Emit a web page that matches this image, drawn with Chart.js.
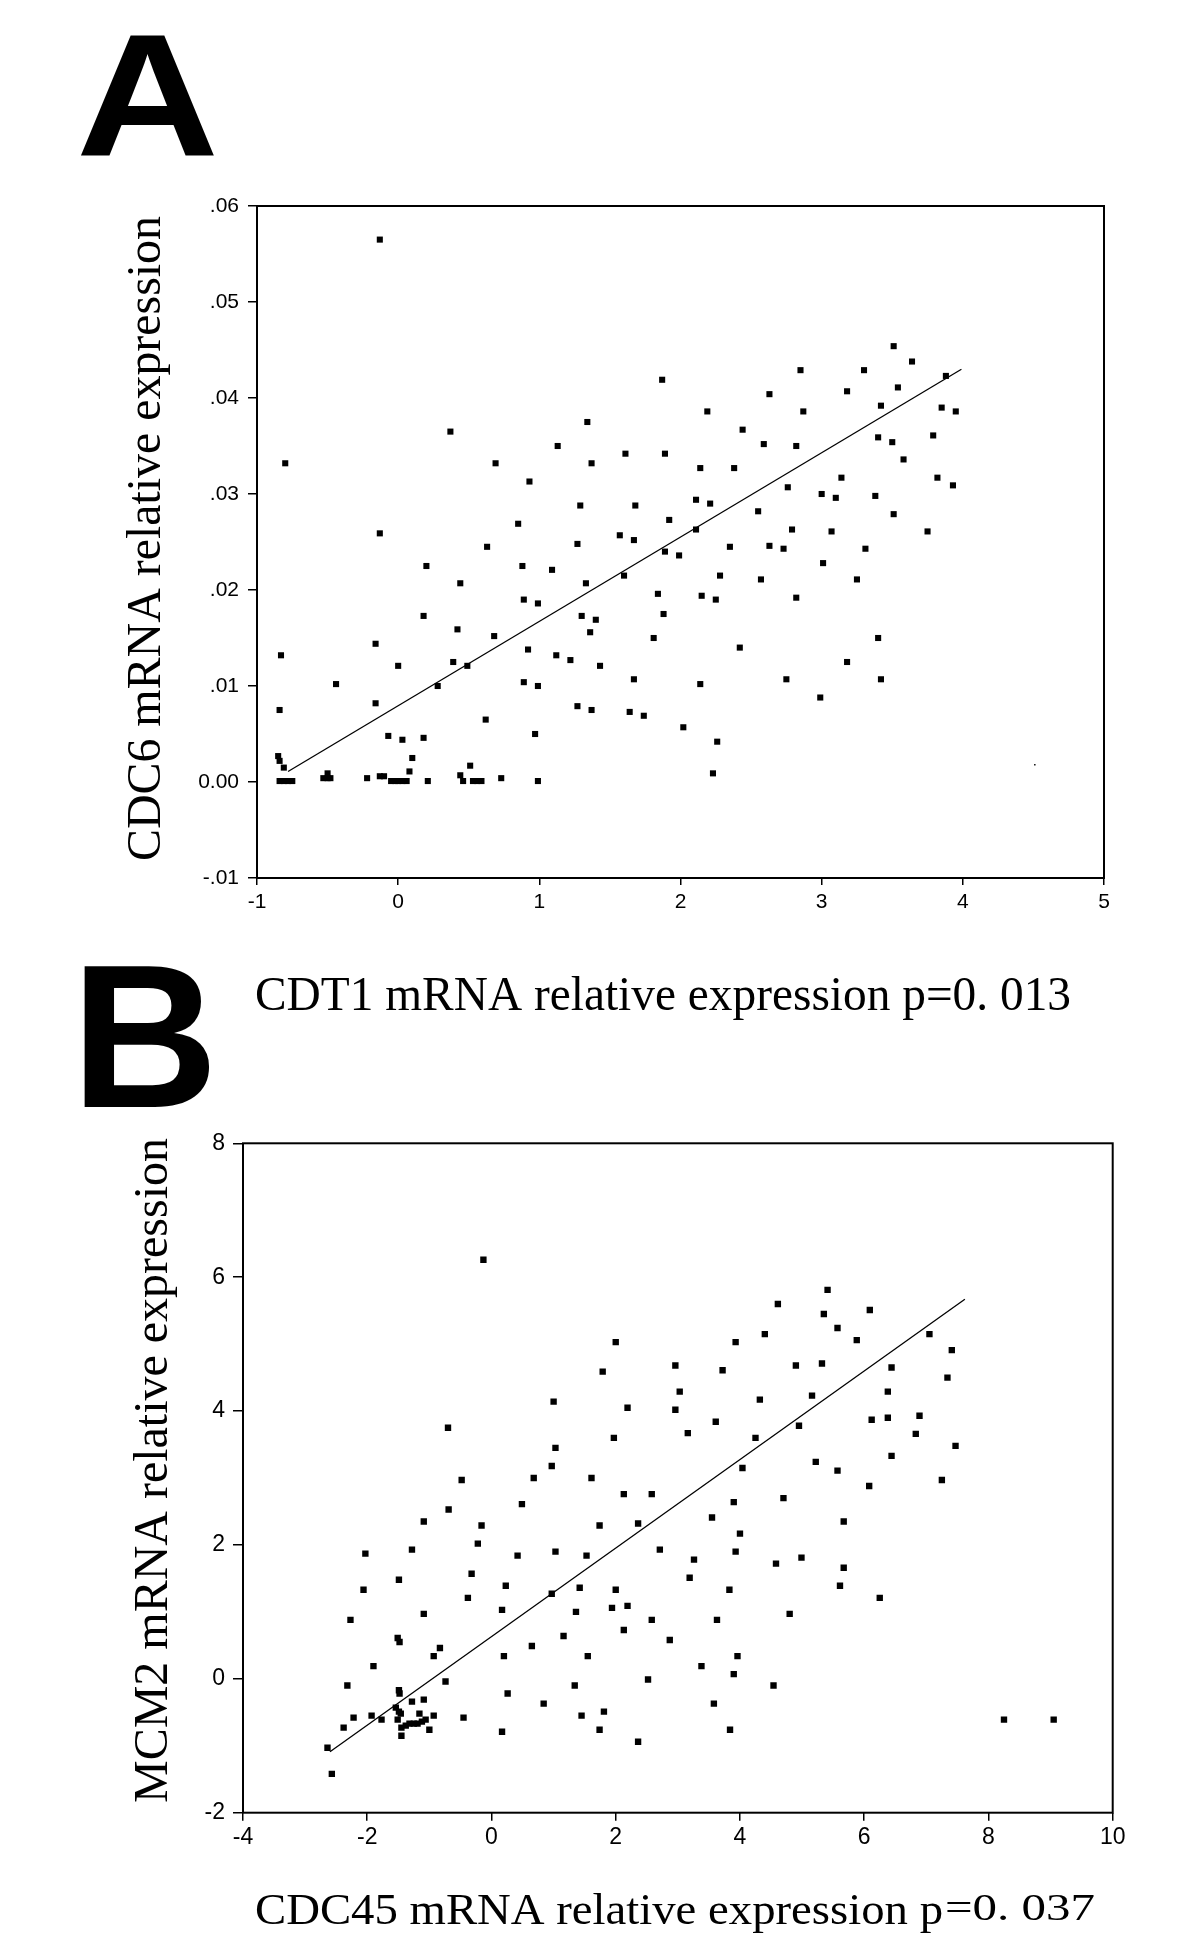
<!DOCTYPE html>
<html>
<head>
<meta charset="utf-8">
<script src="https://cdn.jsdelivr.net/npm/chart.js@4.4.1/dist/chart.umd.min.js"></script>
<style>
  html, body { margin: 0; padding: 0; background: #fff; }
  body { width: 1200px; height: 1950px; position: relative; overflow: hidden; }
  canvas { position: absolute; left: 0; }
  #chartA { top: 0; }
  #chartB { top: 930px; }
</style>
</head>
<body>
<canvas id="chartA" width="1200" height="1050"></canvas>
<canvas id="chartB" width="1200" height="1020"></canvas>
<script>
// ---- panel A: CDT1 vs CDC6 ----
const cdt1 = [
  -0.13, -0.80, 0.37, 1.87, 1.34, 1.13, 0.69, 1.37, 1.61, 1.89,
  0.93, 1.29, 1.68, 1.92, 0.85, -0.13, 1.57, 1.67, 1.27, 0.63,
  3.51, 3.64, 3.88, 2.85, 3.30, 2.63, 3.18, 3.54, 3.42, 2.19,
  2.87, 3.85, 3.95, 2.44, 2.59, 2.82, 3.40, 3.50, 3.79, 3.58,
  2.14, 2.38, 3.14, 3.82, 3.93, 2.76, 3.00, 3.10, 3.38, 2.11,
  2.21, 2.55, 3.51, 2.11, 2.79, 3.07, 3.75, 2.35, 2.63, 2.73,
  3.31, 0.20, 0.88, 1.09, 1.60, 0.44, 1.33, 1.84, 0.89, 0.99,
  0.18, 1.30, 1.40, 0.42, 1.36, 0.68, 1.81, -0.16, 0.92, -0.83,
  1.12, 1.22, 0.39, 0.00, 0.49, 1.43, 1.67, -0.44, 0.89, 0.99,
  0.28, -0.16, 1.27, -0.84, 1.37, 1.64, 1.74, 0.62, 0.97, -0.07,
  0.03, 0.18, 0.10, -0.85, -0.84, -0.81, 0.51, 0.08, -0.50, -0.22,
  -0.13, -0.10, 0.73, 0.44, -0.84, -0.81, -0.78, -0.75, -0.53, -0.50,
  -0.48, -0.05, -0.02, 0.00, 0.03, 0.06, 0.21, 0.46, 0.53, 0.56,
  0.59, 0.99, 1.89, 1.99, 3.01, 2.28, 2.57, 3.25, 2.15, 2.25,
  2.82, 1.88, 3.40, 2.42, 3.18, 2.14, 2.75, 3.42, 2.99, 2.02,
  2.26, 2.23
];
const cdc6 = [
  .0565, .0332, .0365, .0419, .0375, .0350, .0332, .0332, .0342, .0342,
  .0313, .0288, .0288, .0273, .0269, .0259, .0257, .0252, .0248, .0245,
  .0454, .0438, .0423, .0429, .0429, .0404, .0407, .0411, .0392, .0386,
  .0386, .0390, .0386, .0367, .0352, .0350, .0359, .0354, .0361, .0336,
  .0327, .0327, .0317, .0317, .0309, .0307, .0300, .0296, .0298, .0294,
  .0290, .0282, .0279, .0263, .0263, .0261, .0261, .0245, .0246, .0243,
  .0243, .0225, .0225, .0221, .0215, .0207, .0207, .0196, .0190, .0186,
  .0173, .0173, .0169, .0159, .0156, .0152, .0150, .0144, .0138, .0132,
  .0132, .0127, .0125, .0121, .0121, .0121, .0107, .0102, .0104, .0100,
  .0100, .0082, .0079, .0075, .0075, .0073, .0069, .0065, .0050, .0048,
  .0044, .0046, .0025, .0027, .0022, .0015, .0017, .0011, .0009, .0004,
  .0006, .0006, .0004, .0007, .0001, .0001, .0001, .0001, .0004, .0004,
  .0004, .0001, .0001, .0001, .0001, .0001, .0001, .0001, .0001, .0001,
  .0001, .0001, .0240, .0236, .0228, .0215, .0211, .0211, .0194, .0190,
  .0192, .0175, .0150, .0140, .0125, .0102, .0107, .0107, .0088, .0057,
  .0042, .0009
];
const fitAx = [-0.78, 3.99];
const fitAy = [0.0011, 0.0430];
const strayAx = [4.51];
const strayAy = [0.0018];
const xTicksA = [-1, 0, 1, 2, 3, 4, 5];
const xTickLabelsA = ['-1', '0', '1', '2', '3', '4', '5'];
const yTicksA = [-0.01, 0, 0.01, 0.02, 0.03, 0.04, 0.05, 0.06];
const yTickLabelsA = ['-.01', '0.00', '.01', '.02', '.03', '.04', '.05', '.06'];

// ---- panel B: CDC45 vs MCM2 ----
const cdc45 = [
  -0.13, 2.00, 1.79, 1.00, 2.19, -0.70, 1.97, 1.03, 0.97, -0.48,
  0.68, 1.61, 2.13, 0.49, -0.69,
  -1.09, -0.16, 1.74, 2.36, -0.22, -2.03, -1.28, 0.42, 1.03, 1.53,
  -0.32, -1.49, -2.06, 0.23, 1.42, 2.00, -0.38, 0.97, 1.94, 2.19,
  0.17, 1.36, -1.09, -2.27, 2.13, 1.16, -1.51, -1.48, -0.83, 0.65,
  -0.93, 0.20, 1.55, -1.90, -0.74, -2.32, 1.34, -1.49, -1.48, 0.26,
  -1.28, -1.09, 0.84, -1.54, -1.49, -1.46, -1.16, 1.81, -2.22, -1.93,
  -1.77, -0.93, -0.45, 1.45, -1.51, -1.06, -1.12, -1.19, -1.25, -1.32,
  -1.38, -1.45, -1.00, -2.38, 0.17, 1.74, -1.45, 2.36, -2.64, -2.57,
  5.41, 4.61, 5.35, 6.09, 5.57, 4.40, 5.88, 7.05, 3.93, 7.41,
  2.96, 3.72, 4.90, 5.32, 6.44, 7.34, 3.03, 5.16, 6.38, 4.32,
  2.96, 3.61, 6.12, 6.38, 6.89, 4.95, 3.16, 4.25, 6.83, 7.47,
  6.44, 5.22, 4.04, 5.57, 7.25, 6.08, 2.58, 3.90, 4.70,
  3.55, 5.67, 4.00, 2.71, 3.93, 3.26, 4.58, 4.99, 5.67, 3.19,
  5.61, 3.83, 6.25, 4.80, 2.58, 3.63, 2.87, 3.96, 3.38, 3.90,
  2.52, 4.54, 3.58, 8.25, 9.05, 3.84
];
const mcm2 = [
  6.26, 5.03, 4.59, 4.14, 4.05, 3.75, 3.60, 3.45, 3.18, 2.97,
  3.00, 3.00, 2.76, 2.61, 2.53,
  2.35, 2.29, 2.29, 2.32, 2.02, 1.87, 1.93, 1.84, 1.90, 1.84,
  1.57, 1.48, 1.33, 1.39, 1.36, 1.33, 1.21, 1.27, 1.06, 1.09,
  1.03, 1.00, 0.97, 0.88, 0.73, 0.64, 0.61, 0.55, 0.46, 0.49,
  0.34, 0.34, 0.34, 0.19, -0.04, -0.10, -0.10, -0.17, -0.22, -0.22,
  -0.34, -0.31, -0.37, -0.43, -0.49, -0.52, -0.52, -0.49, -0.58, -0.55,
  -0.61, -0.55, -0.58, -0.55, -0.61, -0.61, -0.64, -0.67, -0.67, -0.67,
  -0.70, -0.73, -0.76, -0.73, -0.79, -0.76, -0.85, -0.94, -1.03, -1.42,
  5.81, 5.60, 5.45, 5.51, 5.24, 5.15, 5.06, 5.15, 5.03, 4.91,
  4.68, 4.61, 4.68, 4.71, 4.65, 4.50, 4.29, 4.23, 4.29, 4.17,
  4.02, 3.84, 3.87, 3.90, 3.93, 3.78, 3.67, 3.60, 3.66, 3.48,
  3.33, 3.24, 3.15, 3.11, 2.97, 2.88, 2.76, 2.64, 2.70,
  2.41, 2.35, 2.17, 1.93, 1.90, 1.78, 1.72, 1.81, 1.66, 1.51,
  1.39, 1.33, 1.21, 0.97, 0.88, 0.88, 0.58, 0.34, 0.19, 0.07,
  -0.01, -0.10, -0.37, -0.61, -0.61, -0.76
];
const fitBx = [-2.60, 7.62];
const fitBy = [-1.09, 5.67];
const xTicksB = [-4, -2, 0, 2, 4, 6, 8, 10];
const xTickLabelsB = ['-4', '-2', '0', '2', '4', '6', '8', '10'];
const yTicksB = [-2, 0, 2, 4, 6, 8];
const yTickLabelsB = ['-2', '0', '2', '4', '6', '8'];

function toPoints(xs, ys) {
  return xs.map((x, i) => ({ x: x, y: ys[i] }));
}

// text stretched to a given width (the scanned figure's fonts are not quite regular)
function drawText(ctx, text, font, x, y, width, angle) {
  ctx.save();
  ctx.font = font;
  ctx.fillStyle = '#000';
  ctx.textAlign = 'left';
  ctx.textBaseline = 'alphabetic';
  const w = ctx.measureText(text).width;
  ctx.translate(x, y);
  if (angle) ctx.rotate(angle);
  if (width) ctx.scale(width / w, 1);
  ctx.fillText(text, 0, 0);
  ctx.restore();
}

function axis(min, max, vals, labels, fontSize, tickLen, pad, size, isY) {
  return {
    type: 'linear',
    min: min,
    max: max,
    afterBuildTicks: s => { s.ticks = vals.map(v => ({ value: v })); },
    afterFit: s => { if (isY) s.width = size; else s.height = size; },
    grid: { drawOnChartArea: false, drawTicks: true, tickLength: tickLen, color: '#000', lineWidth: 1.5 },
    border: { display: false },
    ticks: {
      color: '#000',
      padding: pad,
      autoSkip: false,
      maxRotation: 0,
      font: { family: "'Liberation Sans', Arial, sans-serif", size: fontSize },
      callback: (v, i) => labels[i]
    }
  };
}

const boxPlugin = {
  id: 'box',
  afterDraw(chart) {
    const a = chart.chartArea;
    const ctx = chart.ctx;
    ctx.save();
    ctx.strokeStyle = '#000';
    ctx.lineWidth = 2;
    ctx.strokeRect(a.left, a.top, a.right - a.left, a.bottom - a.top);
    ctx.restore();
  }
};

function textPlugin(draw) {
  return { id: 'labels', afterDraw(chart) { draw(chart.ctx); } };
}

const serif = "'Liberation Serif', 'Times New Roman', serif";
const bold = "bold {s}px 'Liberation Sans', Arial, sans-serif";

new Chart(document.getElementById('chartA'), {
  type: 'scatter',
  data: {
    datasets: [
      {
        data: toPoints(fitAx, fitAy),
        showLine: true,
        borderColor: '#000',
        borderWidth: 1.3,
        pointRadius: 0
      },
      {
        data: toPoints(cdt1, cdc6),
        pointStyle: 'rect',
        pointRadius: 4.3,
        backgroundColor: '#000',
        borderWidth: 0
      },
      {
        data: toPoints(strayAx, strayAy),
        pointStyle: 'rect',
        pointRadius: 1,
        backgroundColor: '#000',
        borderWidth: 0
      }
    ]
  },
  options: {
    responsive: false,
    animation: false,
    devicePixelRatio: 1,
    layout: { padding: { left: 0, right: 96, top: 206, bottom: 112 } },
    plugins: { legend: { display: false }, tooltip: { enabled: false } },
    scales: {
      x: axis(-1, 5, xTicksA, xTickLabelsA, 21, 7, 5, 60, false),
      y: axis(-0.01, 0.06, yTicksA, yTickLabelsA, 21, 9, 9, 257, true)
    }
  },
  plugins: [boxPlugin, textPlugin(ctx => {
    drawText(ctx, 'A', bold.replace('{s}', 175), 76, 156, 143);
    drawText(ctx, 'CDC6 mRNA relative expression', '48px ' + serif, 160, 861, 645, -Math.PI / 2);
    drawText(ctx, 'CDT1 mRNA relative expression p=0. 013', '48px ' + serif, 255, 1010, 816);
  })]
});

new Chart(document.getElementById('chartB'), {
  type: 'scatter',
  data: {
    datasets: [
      {
        data: toPoints(fitBx, fitBy),
        showLine: true,
        borderColor: '#000',
        borderWidth: 1.3,
        pointRadius: 0
      },
      {
        data: toPoints(cdc45, mcm2),
        pointStyle: 'rect',
        pointRadius: 4.5,
        backgroundColor: '#000',
        borderWidth: 0
      }
    ]
  },
  options: {
    responsive: false,
    animation: false,
    devicePixelRatio: 1,
    layout: { padding: { left: 0, right: 87.3, top: 213.3, bottom: 77.3 } },
    plugins: { legend: { display: false }, tooltip: { enabled: false } },
    scales: {
      x: axis(-4, 10, xTicksB, xTickLabelsB, 23, 8, 3, 60, false),
      y: axis(-2, 8, yTicksB, yTickLabelsB, 23, 10, 8, 243, true)
    }
  },
  plugins: [boxPlugin, textPlugin(ctx => {
    drawText(ctx, 'B', bold.replace('{s}', 204), 71, 177, 0);
    drawText(ctx, 'MCM2 mRNA relative expression', '48px ' + serif, 167, 873, 665, -Math.PI / 2);
    drawText(ctx, 'CDC45 mRNA relative expression p', '45px ' + serif, 255, 994, 688);
    drawText(ctx, '=0. 037', '38px ' + serif, 945, 990, 150);
  })]
});
</script>
</body>
</html>
